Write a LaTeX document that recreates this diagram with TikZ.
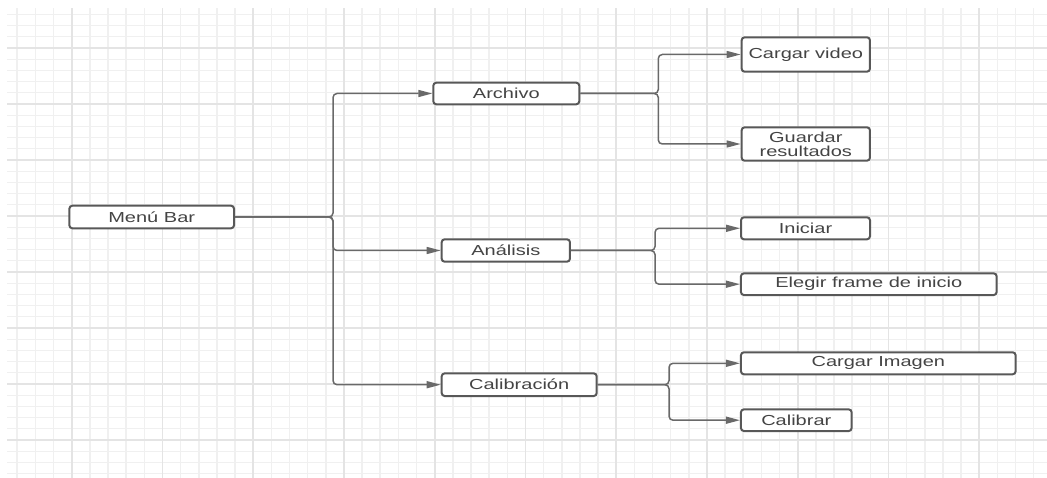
\documentclass[tikz,border=0pt]{standalone}
\usepackage{fontspec}
\setmainfont{Liberation Sans}[FakeStretch=1.38]
\usepackage{tikz}
\usetikzlibrary{arrows.meta}
\definecolor{linegray}{RGB}{105,105,105}
\definecolor{boxgray}{RGB}{88,88,88}
\definecolor{txtgray}{RGB}{68,68,68}
\definecolor{gridminor}{RGB}{240,240,240}
\definecolor{gridmajor}{RGB}{228,228,228}

\begin{document}
\begin{tikzpicture}[x=1pt, y=-1pt,
          item/.style={draw=boxgray,line width=2pt,rounded corners=3pt,inner sep=0pt,fill=white,
                       text=txtgray,font=\fontsize{14.5}{14.3}\selectfont,align=center},
          link/.style={draw=linegray,line width=1.5pt,rounded corners=4pt},
          arr/.style={link,-{Triangle[length=14pt,width=7pt]}}
      ]
        \useasboundingbox (0,0) rectangle (1047,478);
        \begin{scope}
          \clip (7,9) rectangle (1047,478);
          \foreach \i in {-3,...,53} \draw[gridminor,line width=1.6pt] ({71.7+18.15*\i},0) -- ++(0,478);
          \foreach \j in {-3,...,38} \draw[gridminor,line width=1.2pt] (0,{48+11.2*\j}) -- ++(1047,0);
          \foreach \i in {0,...,10} \draw[gridmajor,line width=1.6pt] ({71.7+90.75*\i},0) -- ++(0,478);
          \foreach \j in {0,...,7} \draw[gridmajor,line width=1.2pt] (0,{48+56*\j}) -- ++(1047,0);
        \end{scope}
        \node[item,minimum width=164.7pt,minimum height=22.6pt] (menu)     at (151.7,217)   {Menú Bar};
        \node[item,minimum width=146pt,  minimum height=21.6pt] (archivo)  at (506.3,93.5)  {Archivo};
        \node[item,minimum width=128.3pt,minimum height=22.4pt] (analisis) at (505.8,250.5) {Análisis};
        \node[item,minimum width=155pt,  minimum height=22.7pt] (calib)    at (519.2,384.7) {Calibración};
        \node[item,minimum width=128.3pt,minimum height=34.4pt] (cvideo)   at (805.8,54.5)  {Cargar video};
        \node[item,minimum width=128.3pt,minimum height=33.4pt] (guardar)  at (805.8,144)   {Guardar\\resultados};
        \node[item,minimum width=129pt,  minimum height=22pt]   (iniciar)  at (805.5,228.3) {Iniciar};
        \node[item,minimum width=255.7pt,minimum height=21.7pt] (elegir)   at (868.8,284.2) {Elegir frame de inicio};
        \node[item,minimum width=274.7pt,minimum height=22pt]   (cimagen)  at (878.3,363.3) {Cargar Imagen};
        \node[item,minimum width=110.7pt,minimum height=21.7pt] (calibrar) at (796.3,420.2) {Calibrar};
        \coordinate (trunk) at (333,217);
        \coordinate (archj) at (658.3,93.5);
        \coordinate (anaj)  at (655,250.5);
        \coordinate (calj)  at (669,384.7);
        \draw[arr] (menu) -- (trunk) |- (archivo);
        \draw[arr] (menu) -- (trunk) |- (analisis);
        \draw[arr] (menu) -- (trunk) |- (calib);
        \draw[arr] (archivo) -- (archj) |- (cvideo);
        \draw[arr] (archivo) -- (archj) |- (guardar);
        \draw[arr] (analisis) -- (anaj) |- (iniciar);
        \draw[arr] (analisis) -- (anaj) |- (elegir);
        \draw[arr] (calib) -- (calj) |- (cimagen);
        \draw[arr] (calib) -- (calj) |- (calibrar);
      \end{tikzpicture}
\end{document}
